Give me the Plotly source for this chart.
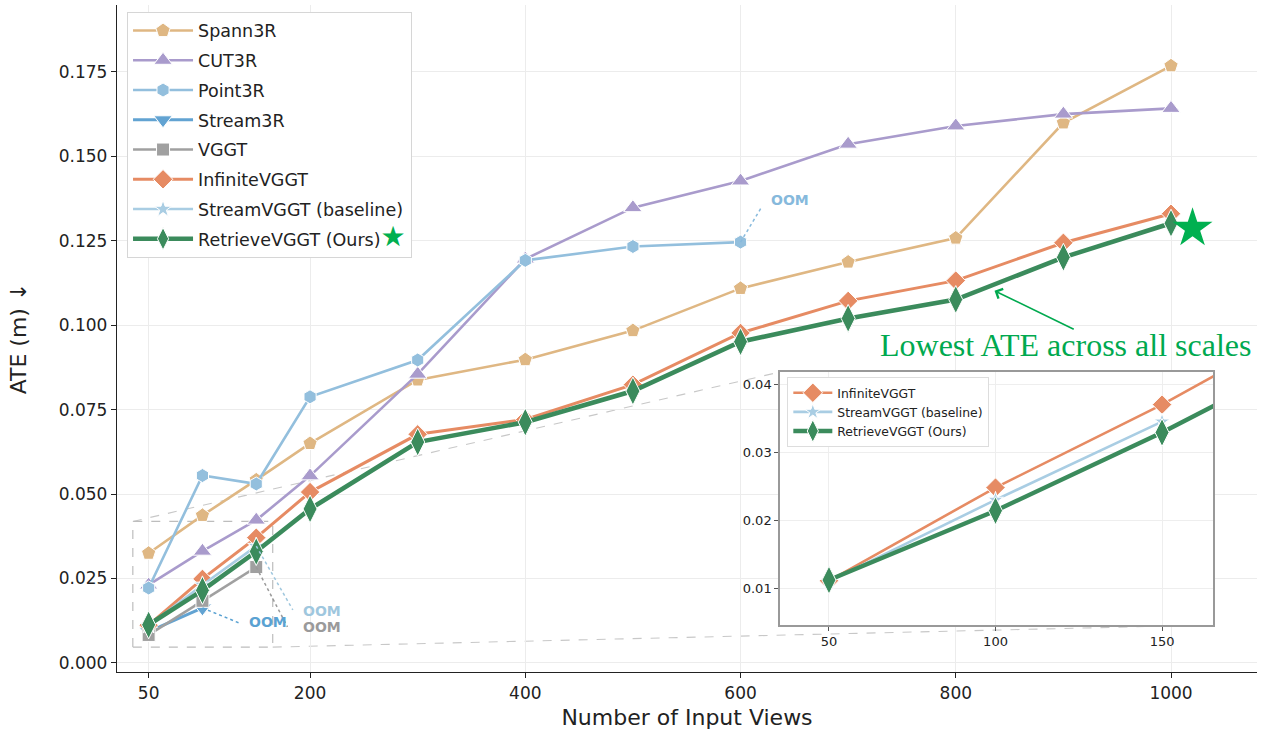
import plotly.graph_objects as go

# ---------------- data ----------------
views = [50, 100, 150, 200, 300, 400, 500, 600, 700, 800, 900, 1000]
spann3r = [0.0325, 0.0437, 0.0542, 0.0650, 0.0838, 0.0898, 0.0984, 0.1109, 0.1187, 0.1258, 0.1599, 0.1768]
cut3r = [0.0231, 0.0331, 0.0423, 0.0554, 0.0855, 0.1196, 0.1348, 0.1427, 0.1536, 0.1590, 0.1625, 0.1642]
point3r_views = [50, 100, 150, 200, 300, 400, 500, 600]
point3r = [0.0222, 0.0555, 0.0530, 0.0788, 0.0897, 0.1192, 0.1233, 0.1246]
stream3r_views = [50, 100]
stream3r = [0.0093, 0.0163]
vggt_views = [50, 100, 150]
vggt = [0.0083, 0.0184, 0.0284]
infinite = [0.0112, 0.0249, 0.0371, 0.0506, 0.0677, 0.0721, 0.0824, 0.0977, 0.1072, 0.1132, 0.1244, 0.1330]
streamvggt_views = [50, 100, 150]
streamvggt = [0.0111, 0.0231, 0.0346]
retrieve = [0.0113, 0.0215, 0.0330, 0.0456, 0.0654, 0.0713, 0.0805, 0.0951, 0.1020, 0.1076, 0.1201, 0.1302]

x_ticks = [50, 200, 400, 600, 800, 1000]
y_ticks = [0.0, 0.025, 0.05, 0.075, 0.1, 0.125, 0.15, 0.175]
inset_x_ticks = [50, 100, 150]
inset_y_ticks = [0.01, 0.02, 0.03, 0.04]

# ---------------- style ----------------
FONT = "DejaVu Sans"
C_SPANN = "#dfb783"
C_CUT = "#a99bcc"
C_POINT = "#93bfdd"
C_STREAM3R = "#62a3d2"
C_VGGT = "#a0a0a0"
C_INF = "#e68b63"
C_SVGGT = "#a9cde3"
C_RET = "#3b8b5c"
C_STAR = "#00b050"

X_RANGE = [20.6, 1079.9]
Y_RANGE = [-0.00267, 0.1948]
IX_RANGE = [35.3, 165.3]
IY_RANGE = [0.0047, 0.0419]
INSET_DX = [0.5816, 0.9614]
INSET_DY = [0.0705, 0.4498]

fig = go.Figure()


def add(xs, ys, name, color, symbol, lw=2.6, ms=12, group=None, xaxis="x", yaxis="y",
        legend="legend", showlegend=True):
    fig.add_trace(go.Scatter(
        x=xs, y=ys, name=name, mode="lines+markers",
        line=dict(color=color, width=lw),
        marker=dict(symbol=symbol, size=ms, color=color, line=dict(color="white", width=1)),
        xaxis=xaxis, yaxis=yaxis, legend=legend, showlegend=showlegend,
        legendgroup=group if group else name,
    ))


add(views, spann3r, "Spann3R", C_SPANN, "pentagon", ms=15)
add(views, cut3r, "CUT3R", C_CUT, "triangle-up", ms=16)
add(point3r_views, point3r, "Point3R", C_POINT, "hexagon", ms=14)
add(stream3r_views, stream3r, "Stream3R", C_STREAM3R, "triangle-down", lw=3, ms=16)
add(vggt_views, vggt, "VGGT", C_VGGT, "square", ms=13)
add(views, infinite, "InfiniteVGGT", C_INF, "diamond", lw=3, ms=15)
add(streamvggt_views, streamvggt, "StreamVGGT (baseline)", C_SVGGT, "star", ms=13)
add(views, retrieve,
    "RetrieveVGGT (Ours)<span style='color:#00b050;font-size:28px'>★</span>",
    C_RET, "diamond-tall", lw=4.6, ms=20)

# big star next to the last RetrieveVGGT point
fig.add_trace(go.Scatter(
    x=[views[-1] + 20], y=[retrieve[-1] - 0.0015], mode="markers",
    marker=dict(symbol="star", size=30, color=C_STAR), showlegend=False, hoverinfo="skip"))

# inset traces
add(views, infinite, "InfiniteVGGT", C_INF, "diamond", lw=2.6, ms=15, group="i1",
    xaxis="x2", yaxis="y2", legend="legend2")
add(streamvggt_views, streamvggt, "StreamVGGT (baseline)", C_SVGGT, "star", lw=2.6, ms=12,
    group="i2", xaxis="x2", yaxis="y2", legend="legend2")
add(views, retrieve, "RetrieveVGGT (Ours)", C_RET, "diamond-tall", lw=4.4, ms=20, group="i3",
    xaxis="x2", yaxis="y2", legend="legend2")

# ---------------- OOM labels ----------------
def oom(x0, y0, x1, y1, tx, ty, color):
    fig.add_shape(type="line", xref="x", yref="y", x0=x0, y0=y0, x1=x1, y1=y1,
                  line=dict(color=color, width=1.5, dash="dot"), layer="above")
    fig.add_annotation(x=tx, y=ty, xref="x", yref="y", text="<b>OOM</b>", showarrow=False,
                       font=dict(family=FONT, size=14, color=color))


oom(point3r_views[-1], point3r[-1], 620, 0.1352, 646, 0.1371, "#86b9dc")
oom(stream3r_views[-1], stream3r[-1], 136, 0.0116, 161, 0.0121, "#5aa2d2")
oom(streamvggt_views[-1], streamvggt[-1], 184, 0.0157, 211, 0.0154, "#9fc7de")
oom(vggt_views[-1], vggt[-1], 179, 0.0107, 211, 0.0107, "#9a9a9a")

# ---------------- zoom box + connectors ----------------
fig.add_shape(type="rect", xref="x", yref="y", x0=IX_RANGE[0], x1=IX_RANGE[1],
              y0=IY_RANGE[0], y1=IY_RANGE[1], line=dict(color="#bdbdbd", width=1.2, dash="dash"),
              layer="below")


def to_paper(x, y):
    return ((x - X_RANGE[0]) / (X_RANGE[1] - X_RANGE[0]),
            (y - Y_RANGE[0]) / (Y_RANGE[1] - Y_RANGE[0]))


tl = to_paper(IX_RANGE[0], IY_RANGE[1])
br = to_paper(IX_RANGE[1], IY_RANGE[0])
fig.add_shape(type="line", xref="paper", yref="paper", x0=tl[0], y0=tl[1],
              x1=INSET_DX[0], y1=INSET_DY[1], line=dict(color="#c8c8c8", width=1.1, dash="dash"),
              layer="below")
fig.add_shape(type="line", xref="paper", yref="paper", x0=br[0], y0=br[1],
              x1=INSET_DX[1], y1=INSET_DY[0], line=dict(color="#c8c8c8", width=1.1, dash="dash"),
              layer="below")

# white background for inset (drawn in inset subplot layer -> above main traces)
fig.add_shape(type="rect", xref="x2 domain", yref="y2 domain", x0=0, x1=1, y0=0, y1=1,
              fillcolor="white", line=dict(width=0), layer="below")

# ---------------- annotations ----------------
fig.add_annotation(x=902, y=0.0942, xref="x", yref="y", text="Lowest ATE across all scales",
                   showarrow=False, font=dict(family="Liberation Serif", size=32, color="#00a94f"))
fig.add_annotation(x=836, y=0.1102, xref="x", yref="y", ax=911, ay=0.0986, axref="x", ayref="y",
                   text="", showarrow=True, arrowhead=4, arrowsize=1.3, arrowwidth=1.6,
                   arrowcolor="#00a94f")

# ---------------- layout ----------------
fig.update_layout(
    width=1265, height=734,
    margin=dict(l=117, r=8, t=5, b=62),
    paper_bgcolor="white", plot_bgcolor="white",
    font=dict(family=FONT, color="#222"),
    xaxis=dict(range=X_RANGE, tickvals=x_ticks, ticks="outside", ticklen=5, tickcolor="#222",
               showline=True, linecolor="#222", linewidth=1.3, showgrid=True, gridcolor="#ececec",
               gridwidth=1, zeroline=False, tickfont=dict(size=17),
               title=dict(text="Number of Input Views", font=dict(size=22), standoff=8)),
    yaxis=dict(range=Y_RANGE, tickvals=y_ticks, tickformat=".3f", ticks="outside", ticklen=5,
               tickcolor="#222", showline=True, linecolor="#222", linewidth=1.3, showgrid=True,
               gridcolor="#ececec", gridwidth=1, zeroline=False, tickfont=dict(size=17),
               title=dict(text="ATE (m) ↓", font=dict(size=22), standoff=26)),
    xaxis2=dict(domain=INSET_DX, anchor="y2", range=IX_RANGE, tickvals=inset_x_ticks,
                ticks="outside", ticklen=4, tickcolor="#555", showline=True, mirror=True,
                linecolor="#999", linewidth=1.5, showgrid=True, gridcolor="#eeeeee",
                zeroline=False, tickfont=dict(size=13)),
    yaxis2=dict(domain=INSET_DY, anchor="x2", range=IY_RANGE, tickvals=inset_y_ticks,
                tickformat=".2f", ticks="outside", ticklen=4, tickcolor="#555", showline=True,
                mirror=True, linecolor="#999", linewidth=1.5, showgrid=True, gridcolor="#eeeeee",
                zeroline=False, tickfont=dict(size=13)),
    legend=dict(x=0.0088, y=0.99, xanchor="left", yanchor="top", bgcolor="white",
                bordercolor="#d6d6d6", borderwidth=1, font=dict(size=17.5),
                tracegroupgap=4, traceorder="grouped", itemwidth=60),
    legend2=dict(x=0.588, y=0.442, xanchor="left", yanchor="top", bgcolor="white",
                 bordercolor="#dddddd", borderwidth=1, font=dict(size=12.4),
                 tracegroupgap=0, traceorder="grouped", itemwidth=39),
    showlegend=True,
)

fig.write_html("out.html", config={"displayModeBar": False},
               post_script="document.body.style.margin='0';")
